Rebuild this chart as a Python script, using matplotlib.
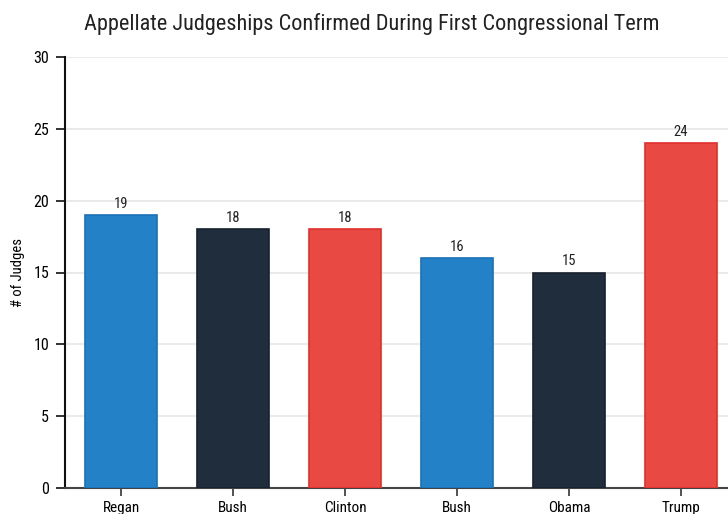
import matplotlib.pyplot as plt
from matplotlib import font_manager

names = ['Regan', 'Bush', 'Clinton', 'Bush', 'Obama', 'Trump']
judges = [19, 18, 18, 16, 15, 24]
colors = ['#2381c8', '#1f2d3d', '#e84a43', '#2381c8', '#1f2d3d', '#e84a43']
edges = ['#1a72b8', '#17222f', '#e0302e', '#1a72b8', '#17222f', '#e0302e']

avail = {f.name for f in font_manager.fontManager.ttflist}
fam = 'Roboto Condensed' if 'Roboto Condensed' in avail else 'Roboto'
plt.rcParams['font.family'] = [fam, 'DejaVu Sans']

fig = plt.figure(figsize=(7.28, 5.14), dpi=100)
# axes runs off the right edge as in the reference
ax = fig.add_axes([65/728, 1 - 488/514, (737 - 65)/728, (488 - 57)/514])

x = range(len(names))
ax.bar(x, judges, width=0.64, color=colors, edgecolor=edges, linewidth=1.2, zorder=3)
for i, v in enumerate(judges):
    ax.text(i, v + 0.3, str(v), ha='center', va='bottom', fontsize=10.5, color='#222222')

ax.set_xlim(-0.5, 5.5)
ax.set_ylim(0, 30)
ax.set_yticks(range(0, 31, 5))
ax.set_xticks(list(x))
ax.set_xticklabels(names, fontsize=11)
ax.tick_params(axis='y', labelsize=11.5, length=6.5, width=1.2, pad=5, color='#111111')
ax.tick_params(axis='x', length=6, width=1.2, color='#333333')
ax.yaxis.grid(True, color='#e6e6e6', linewidth=1.2, zorder=0)
ax.set_axisbelow(True)
for s in ['top', 'right']:
    ax.spines[s].set_visible(False)
ax.spines['left'].set_linewidth(1.5)
ax.spines['left'].set_color('#111111')
ax.spines['bottom'].set_linewidth(1.5)
ax.spines['bottom'].set_color('#444444')

ax.set_ylabel('# of Judges', fontsize=10.5, labelpad=6)
fig.text(372/728, 1 - 24/514, 'Appellate Judgeships Confirmed During First Congressional Term',
         ha='center', va='center', fontsize=16, color='#222222')

fig.savefig('out.png', dpi=100)
